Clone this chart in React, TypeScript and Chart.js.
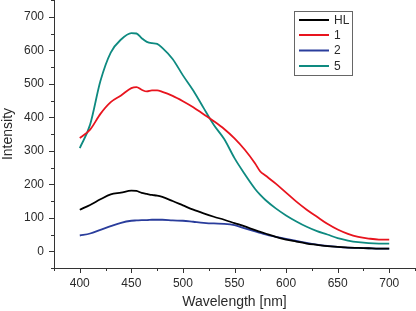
import React, { useEffect, useRef } from 'react';
import { Chart, registerables } from 'chart.js';

Chart.register(...registerables);

const wavelengths = [400, 410, 420, 430, 440, 450, 455, 460, 465, 470, 475, 480, 490, 500, 510, 520, 530, 540, 550, 560, 570, 575, 580, 590, 600, 610, 620, 630, 640, 650, 660, 670, 680, 690, 700];

const hlValues = [124, 138, 155, 170, 175, 181, 180, 174, 171, 168, 166, 162, 150, 137, 124, 113, 103, 94, 84, 74, 63, 58, 53, 43, 35, 29, 23, 19, 15, 13, 11, 10, 9, 8, 8];
const s1Values = [338, 363, 410, 445, 465, 487, 490, 482, 477, 480, 480, 476, 464, 448, 430, 409, 388, 365, 337, 303, 262, 238, 226, 202, 175, 148, 124, 103, 82, 65, 52, 43, 38, 35, 35];
const s2Values = [47, 53, 64, 75, 85, 91, 92, 93, 93, 94, 94, 94, 92, 91, 88, 85, 83, 82, 78, 68, 59, 55, 50, 43, 37, 31, 25, 20, 16, 13, 11, 10, 9, 8, 8];
const s5Values = [308, 378, 508, 593, 632, 651, 650, 636, 625, 621, 619, 607, 574, 525, 480, 428, 377, 335, 278, 230, 186, 168, 153, 128, 107, 89, 73, 60, 50, 39, 32, 27, 24, 23, 23];

const seriesLabels = ['HL', '1', '2', '5'];
const seriesColors = ['#000000', '#e8141e', '#2a3d9c', '#0e8a80'];

const xTickLabels = [400, 450, 500, 550, 600, 650, 700];
const yTickLabels = [0, 100, 200, 300, 400, 500, 600, 700];

const FONT = "'Liberation Sans', Arial, Helvetica, sans-serif";
const TEXT = '#2a2a2a';

const tickPlugin = {
  id: 'customTicks',
  afterDraw(chart: any) {
    const ctx = chart.ctx;
    const xs = chart.scales.x;
    const ys = chart.scales.y;
    const area = chart.chartArea;
    ctx.save();
    ctx.strokeStyle = '#333';
    ctx.lineWidth = 1;
    ctx.beginPath();
    xs.ticks.forEach((t: any) => {
      const px = Math.round(xs.getPixelForValue(t.value)) + 0.5;
      const major = xTickLabels.includes(t.value);
      ctx.moveTo(px, area.bottom);
      ctx.lineTo(px, area.bottom + (major ? 5 : 3));
    });
    ys.ticks.forEach((t: any) => {
      const py = Math.round(ys.getPixelForValue(t.value)) + 0.5;
      const major = yTickLabels.includes(t.value);
      ctx.moveTo(area.left, py);
      ctx.lineTo(area.left - (major ? 5 : 3), py);
    });
    ctx.stroke();

    // legend
    const bx = 294.5, by = 11.5, bw = 58, bh = 64;
    ctx.strokeStyle = '#666';
    ctx.strokeRect(bx, by, bw, bh);
    const rows = [20, 35, 50.5, 66];
    ctx.font = `12px ${FONT}`;
    ctx.textBaseline = 'middle';
    ctx.textAlign = 'left';
    chart.data.datasets.forEach((ds: any, i: number) => {
      ctx.strokeStyle = ds.borderColor;
      ctx.lineWidth = 2;
      ctx.beginPath();
      ctx.moveTo(299, rows[i]);
      ctx.lineTo(329, rows[i]);
      ctx.stroke();
      ctx.fillStyle = TEXT;
      ctx.fillText(ds.label, 334, rows[i] + 0.5);
    });
    ctx.restore();
  },
};

export default function App() {
  const ref = useRef<HTMLCanvasElement | null>(null);

  useEffect(() => {
    document.body.style.margin = '0';
    const canvas = ref.current;
    if (!canvas) return;
    const allSeries = [hlValues, s1Values, s2Values, s5Values];
    const chart = new Chart(canvas, {
      type: 'line',
      data: {
        datasets: allSeries.map((vals, i) => ({
          label: seriesLabels[i],
          data: wavelengths.map((w, j) => ({ x: w, y: vals[j] })),
          borderColor: seriesColors[i],
          backgroundColor: seriesColors[i],
          borderWidth: 1.8,
          pointRadius: 0,
          fill: false,
          cubicInterpolationMode: 'monotone' as const,
        })),
      },
      options: {
        animation: false,
        responsive: false,
        maintainAspectRatio: false,
        layout: { padding: { top: 0, right: 1, left: 0, bottom: 0 } },
        plugins: {
          legend: { display: false },
          tooltip: { enabled: false },
        },
        scales: {
          x: {
            type: 'linear',
            min: 375,
            max: 725,
            afterFit: (s: any) => {
              s.height = 43;
              s.paddingLeft = 0;
              s.paddingRight = 0;
            },
            ticks: {
              stepSize: 25,
              autoSkip: false,
              maxRotation: 0,
              padding: 3,
              color: TEXT,
              font: { family: FONT, size: 12 },
              callback: (v: any) => (xTickLabels.includes(v) ? String(v) : ''),
            },
            grid: { drawOnChartArea: false, drawTicks: true, tickLength: 5, tickColor: 'transparent' },
            border: { display: true, color: '#333', width: 1 },
            title: {
              display: true,
              text: 'Wavelength [nm]',
              color: TEXT,
              font: { family: FONT, size: 14 },
              padding: { top: 0, bottom: 0 },
            },
          },
          y: {
            type: 'linear',
            min: -50,
            max: 750,
            afterFit: (s: any) => {
              s.width = 54;
              s.paddingTop = 0;
              s.paddingBottom = 0;
            },
            ticks: {
              stepSize: 50,
              autoSkip: false,
              padding: 5,
              color: TEXT,
              font: { family: FONT, size: 12 },
              callback: (v: any) => (yTickLabels.includes(v) ? String(v) : ''),
            },
            grid: { drawOnChartArea: false, drawTicks: true, tickLength: 5, tickColor: 'transparent' },
            border: { display: true, color: '#333', width: 1 },
            title: {
              display: true,
              text: 'Intensity',
              color: TEXT,
              font: { family: FONT, size: 14 },
              padding: { top: 0, bottom: 0 },
            },
          },
        },
      },
      plugins: [tickPlugin],
    });
    return () => chart.destroy();
  }, []);

  return (
    <div style={{ width: 416, height: 311, background: '#fff' }}>
      <canvas ref={ref} width={416} height={311} style={{ display: 'block' }} />
    </div>
  );
}
